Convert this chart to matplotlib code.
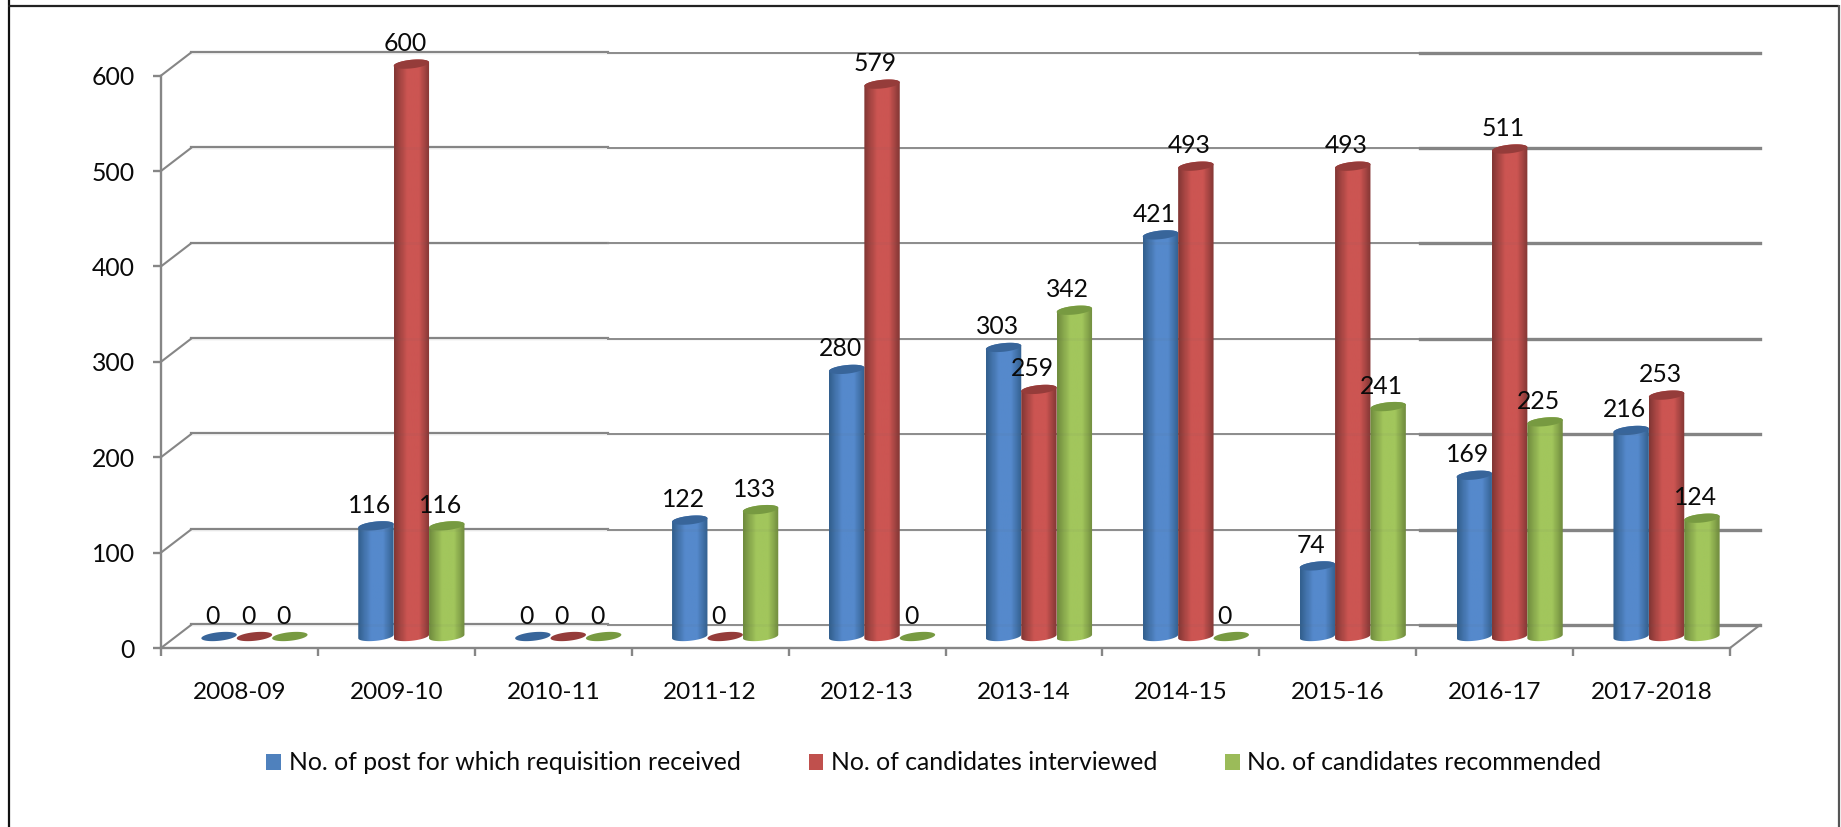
import numpy as np
import matplotlib
matplotlib.use("Agg")
import matplotlib.pyplot as plt
from matplotlib.colors import LinearSegmentedColormap
from matplotlib.lines import Line2D
from matplotlib.patches import Patch, Polygon

plt.rcParams["font.family"] = ["Lato", "DejaVu Sans"]

years = ["2008-09", "2009-10", "2010-11", "2011-12", "2012-13",
         "2013-14", "2014-15", "2015-16", "2016-17", "2017-2018"]
requisition = [0, 116, 0, 122, 280, 303, 421, 74, 169, 216]
interviewed = [0, 600, 0, 0, 579, 259, 493, 493, 511, 253]
recommended = [0, 116, 0, 133, 0, 342, 0, 241, 225, 124]
series_names = ["No. of post for which requisition received",
                "No. of candidates interviewed",
                "No. of candidates recommended"]
y_ticks = [0, 100, 200, 300, 400, 500, 600]

W, H = 1841, 827
GREY = "#868686"
TEXT = "#0a0a0a"
FS = 17.8

# legend colour, then edge / mid / highlight of the cylinder and its lid
BLUE = ("#4F81BD", "#33608F", "#5589CC", "#38659A")
RED_ = ("#C0504D", "#843735", "#CC5552", "#953C3A")
GREEN = ("#9BBB59", "#708C3E", "#A2C65C", "#779A41")

# plot box in pixels
X0, X1 = 161, 1761
Y0, Y1 = 648, 53
CAT_W = 156.9
PX_PER_VAL = 0.954
DEPTH_X, DEPTH_Y = 30, 23
BAR_W = 35.4


def px_x(p):
    return p / CAT_W


def px_y(p):
    return p / PX_PER_VAL


fig = plt.figure(figsize=(W / 100, H / 100), dpi=100, facecolor="white")
ax = fig.add_axes([X0 / W, 1 - Y0 / H, (X1 - X0) / W, (Y0 - Y1) / H])
ax.patch.set_alpha(0)
xmax = (X1 - X0) / CAT_W
ymax = (Y0 - Y1) / PX_PER_VAL
dx, dy = px_x(DEPTH_X), px_y(DEPTH_Y)

# outer frame, runs off the bottom of the image
for xs, ys, c, lw in [([8.5, 8.5], [0, 827], "#111111", 1.6),
                      ([8, 1839], [5.5, 5.5], "#222222", 1.6),
                      ([1839, 1839], [5, 827], "#555555", 1.6)]:
    fig.add_artist(Line2D([v / W for v in xs], [1 - v / H for v in ys],
                          color=c, lw=lw, solid_capstyle="butt"))

# back wall gridlines, three pasted strips of slightly different weight
seam1, seam2 = px_x(608 - X0), px_x(1420 - X0)
for v in y_ticks:
    ax.plot([0, dx], [v, v + dy], color=GREY, lw=1.5, zorder=1, clip_on=False)
    ax.plot([dx, seam1], [v + dy + 0.8] * 2, color=GREY, lw=1.6, zorder=1, clip_on=False)
    ax.plot([seam1, seam2], [v + dy] * 2, color="#8e8e8e", lw=1.4, zorder=1, clip_on=False)
    ax.plot([seam2, 10 + dx], [v + dy] * 2, color=GREY, lw=2.4, zorder=1, clip_on=False)
ax.plot([10, 10 + dx], [0, dy], color=GREY, lw=1.5, zorder=1, clip_on=False)


def ellipse_xy(cx, cy, t):
    a = BAR_W / 2
    b = 4.3
    shear = 0.10
    px = a * np.cos(t)
    py = b * np.sin(t) + shear * px
    return cx + px_x(px), cy + px_y(py)


def cylinder(cx, val, colors):
    base = px_y(DEPTH_Y / 2)
    top = val + base
    _, edge, mid, lid = colors
    if val > 0:
        cmap = LinearSegmentedColormap.from_list("c", [edge, mid, mid, edge],
                                                 N=64)
        grad = np.interp(np.linspace(0, 1, 64), [0, 0.55, 1], [0, 0.5, 1])
        t_low = np.linspace(np.pi, 2 * np.pi, 40)
        t_up = np.linspace(0, np.pi, 40)
        bx, by = ellipse_xy(cx, base, t_low)
        tx, ty = ellipse_xy(cx, top, t_up)
        verts = np.column_stack([np.r_[bx, tx], np.r_[by, ty]])
        clip = Polygon(verts, closed=True, transform=ax.transData)
        half = px_x(BAR_W / 2)
        im = ax.imshow(grad[None, :], cmap=cmap, aspect="auto", vmin=0, vmax=1,
                       extent=(cx - half, cx + half, 0, top + px_y(6)),
                       zorder=3, interpolation="bilinear")
        im.set_clip_path(clip)
    t = np.linspace(0, 2 * np.pi, 80)
    ex, ey = ellipse_xy(cx, val + base, t)
    ax.fill(ex, ey, color=lid, lw=0, zorder=3.1)


groups = [(requisition, BLUE, -1), (interviewed, RED_, 0), (recommended, GREEN, 1)]
for vals, colors, pos in groups:
    for i, v in enumerate(vals):
        cx = i + 0.5 + px_x(DEPTH_X / 2) + pos * px_x(BAR_W)
        cylinder(cx, v, colors)
        ax.annotate(str(v), (cx, v + px_y(DEPTH_Y / 2)), xytext=(-6.5 * 0.72, 20.5 * 0.72),
                    textcoords="offset points", ha="center", va="center",
                    fontsize=FS, color=TEXT, zorder=5)

# gridlines show very faintly through the cylinders
for v in y_ticks:
    ax.plot([dx, 10 + dx], [v + dy] * 2, color="#666666", lw=2, alpha=0.06, zorder=4, clip_on=False)

ax.set_xlim(0, xmax)
ax.set_ylim(0, ymax)
ax.spines[["top", "right"]].set_visible(False)
ax.spines["left"].set_bounds(0, 600)
ax.spines["bottom"].set_bounds(0, 10)
for s in ["left", "bottom"]:
    ax.spines[s].set_color(GREY)
    ax.spines[s].set_linewidth(1.7)
ax.set_yticks(y_ticks)
ax.set_xticks(range(11))
ax.set_xticklabels([])
ax.set_xticks(np.arange(10) + 0.5, labels=years, minor=True)
ax.tick_params(axis="y", length=6, width=1.7, color=GREY, pad=13, labelsize=FS, labelcolor=TEXT)
ax.tick_params(axis="x", which="major", length=6, width=1.7, color=GREY)
ax.tick_params(axis="x", which="minor", length=0, pad=24.5, labelsize=FS - 0.3, labelcolor=TEXT)

handles = [Patch(facecolor=g[1][0], edgecolor="none", label=n)
           for g, n in zip(groups, series_names)]
fig.legend(handles=handles, ncol=3, loc="center", frameon=False,
           bbox_to_anchor=(934 / W, 1 - 763 / H), fontsize=FS, labelcolor=TEXT,
           handlelength=0.6, handleheight=0.6, handletextpad=0.3, columnspacing=2.75)

fig.savefig("out.png", dpi=100, facecolor="white")
